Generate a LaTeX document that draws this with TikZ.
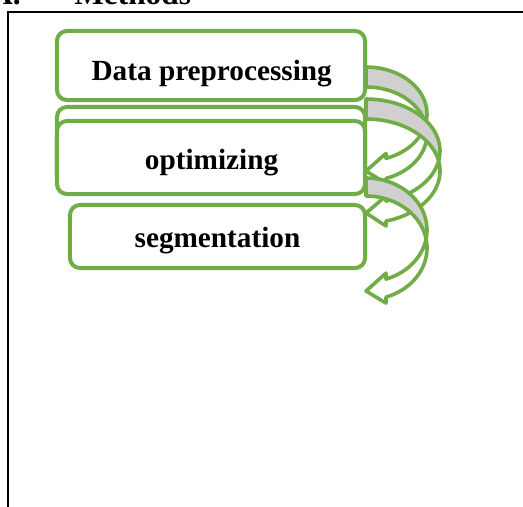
\documentclass[tikz,border=0pt]{standalone}
\usepackage{fontspec}
\setmainfont{Liberation Serif}
\usepackage{xcolor}

\definecolor{leafgreen}{HTML}{70AD47}
\definecolor{backgray}{HTML}{D0D0D0}

\tikzset{
  stepbox/.style={draw=leafgreen, line width=0.1cm, rounded corners=0.25cm, fill=white, inner sep=0pt},
  steptext/.style={font=\fontsize{20.8}{24}\selectfont\bfseries, anchor=base, inner sep=0pt},
  headtext/.style={font=\fontsize{22.3}{26}\selectfont\bfseries, inner sep=0pt},
  arrline/.style={draw=leafgreen, line width=0.09cm, line join=round},
}

% curled arrow: #1 top left corner, #2 x radius, #3 y radius, #4 band
\newcommand{\curlarrow}[4]{%
  \begin{scope}[shift={#1}, samples=40]
    \pgfmathsetmacro{\arW}{#2}
    \pgfmathsetmacro{\arR}{#3}
    \pgfmathsetmacro{\arT}{#4}
    \pgfmathsetmacro{\arA}{acos(20/\arW)}
    \pgfmathsetmacro{\arYf}{\arR+\arR*sin(\arA)}
    \pgfmathsetmacro{\arYs}{\arYf+\arT}
    \pgfmathsetmacro{\arDh}{(30-\arT)/2}
    \pgfmathsetmacro{\arTip}{2*\arR+\arT/2}
    % underside of the band
    \fill[backgray] plot[domain=-90:0] ({\arW*cos(\x)},{\arR+\arR*sin(\x)})
      -- plot[domain=0:-90] ({\arW*cos(\x)},{\arR+\arT+\arR*sin(\x)}) -- cycle;
    % front of the band and the head
    \fill[white] plot[domain=0:\arA] ({\arW*cos(\x)},{\arR+\arR*sin(\x)})
      -- (20,\arYf-\arDh) -- (0,\arTip) -- (20,\arYs+\arDh) -- (20,\arYs)
      -- plot[domain=\arA:0] ({\arW*cos(\x)},{\arR+\arT+\arR*sin(\x)}) -- cycle;
    % outline
    \draw[arrline] plot[domain=0:-90] ({\arW*cos(\x)},{\arR+\arT+\arR*sin(\x)})
      -- (0,0)
      -- plot[domain=-90:\arA] ({\arW*cos(\x)},{\arR+\arR*sin(\x)})
      -- (20,\arYf-\arDh) -- (0,\arTip) -- (20,\arYs+\arDh) -- (20,\arYs)
      -- plot[domain=\arA:0] ({\arW*cos(\x)},{\arR+\arT+\arR*sin(\x)});
  \end{scope}}

\begin{document}
\begin{tikzpicture}[x=0.025cm, y=-0.025cm]

\useasboundingbox (0,0) rectangle (523,506);
\clip (0,0) rectangle (523,506);

% Section heading
\node[headtext, anchor=base east] (secnum) at (21,5) {A.};
\node[headtext, anchor=base west] (sectitle) at (74,5) {Methods};

% Frame
\draw[line width=0.035cm] (8,560) -- (8,12) -- (560,12);

% Steps
\node[stepbox, minimum width=7.7cm, minimum height=1.725cm] (prep) at (211,65.5) {};
\node[stepbox, minimum width=7.7cm, minimum height=1.95cm] (spare) at (211,146) {};
\node[stepbox, minimum width=7.7cm, minimum height=1.825cm] (opt) at (211,157.5) {};
\node[stepbox, minimum width=7.375cm, minimum height=1.575cm] (seg) at (217.5,236.5) {};

\node[steptext] (preptxt) at (211.7,80) {Data preprocessing};
\node[steptext] (opttxt) at (211.5,169) {optimizing};
\node[steptext] (segtxt) at (217.5,247) {segmentation};

% Arrows between the steps
\curlarrow{(366,67)}{61}{47}{20}
\curlarrow{(366,99)}{74}{52}{20}
\curlarrow{(366,178)}{61}{52}{18}

\end{tikzpicture}
\end{document}
